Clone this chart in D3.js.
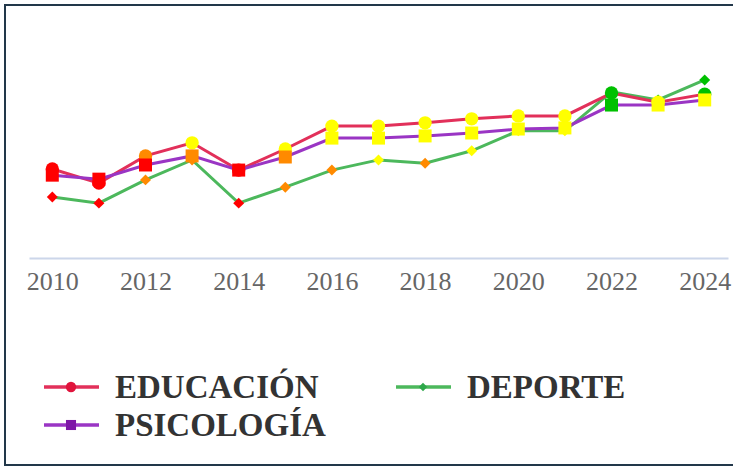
<!DOCTYPE html>
<html lang="es">
<head>
    <meta charset="utf-8">
    <script src="https://d3js.org/d3.v7.min.js"></script>
    <style>
        body { margin: 0; background: #fff; }
    </style>
</head>
<body>
    <div id="chart"></div>
    <script>
        // years on the x axis
        const years = d3.range(2010, 2025);
        const tickYears = [2010, 2012, 2014, 2016, 2018, 2020, 2022, 2024];

        // series values (arbitrary index units)
        const educacion  = [64.5, 60.6, 68.1, 71.7, 64.2, 70.0, 76.3, 76.3, 77.2, 78.3, 79.1, 79.1, 85.4, 82.9, 85.1];
        const psicologia = [62.8, 61.7, 65.6, 68.1, 64.2, 67.8, 73.0, 73.0, 73.6, 74.4, 75.5, 75.8, 82.1, 82.1, 83.5];
        const deporte    = [56.8, 55.1, 61.5, 67.0, 55.1, 59.5, 64.2, 67.0, 66.1, 69.5, 75.0, 75.0, 85.7, 83.5, 89.0];

        // level of each point (0 red, 1 orange, 2 yellow, 3 green) as shown by marker colour
        const nivelEducacion  = [0, 0, 1, 2, 0, 2, 2, 2, 2, 2, 2, 2, 3, 2, 3];
        const nivelPsicologia = [0, 0, 0, 1, 0, 1, 2, 2, 2, 2, 2, 2, 3, 2, 2];
        const nivelDeporte    = [0, 0, 1, 1, 0, 1, 1, 2, 1, 2, 2, 2, 3, 3, 3];

        const width = 733, height = 469;

        const svg = d3.select("#chart")
            .append("svg")
            .attr("width", width)
            .attr("height", height);

        // frame
        svg.append("rect")
            .attr("x", 5).attr("y", 5)
            .attr("width", width + 10).attr("height", height - 9)
            .attr("fill", "#fff")
            .attr("stroke", "#22384a")
            .attr("stroke-width", 2);

        const x = d3.scalePoint()
            .domain(years)
            .range([29, 728])
            .padding(0.5);

        const y = d3.scaleLinear()
            .domain([40, 100])
            .range([258, 40]);

        const levelColor = d3.scaleOrdinal()
            .domain([0, 1, 2, 3])
            .range(["#ff0000", "#ff8a00", "#ffff00", "#00c000"]);

        // square turned 45 degrees is used for the diamond
        const series = [
            { name: "DEPORTE", values: deporte, levels: nivelDeporte, color: "#4cb85c", legendColor: "#2ea84a", symbol: d3.symbolSquare, size: 60, rotate: 45 },
            { name: "EDUCACIÓN", values: educacion, levels: nivelEducacion, color: "#e2305a", legendColor: "#e0143c", symbol: d3.symbolCircle, size: 140, rotate: 0 },
            { name: "PSICOLOGÍA", values: psicologia, levels: nivelPsicologia, color: "#9a35c4", legendColor: "#7e16a8", symbol: d3.symbolSquare, size: 169, rotate: 0 }
        ];

        // x axis
        const xAxis = svg.append("g")
            .attr("transform", "translate(0,258)")
            .call(d3.axisBottom(x).tickValues(tickYears).tickSize(0).tickPadding(14));
        xAxis.select(".domain")
            .attr("stroke", "#ccd6ea")
            .attr("stroke-width", 2);
        xAxis.selectAll("text")
            .attr("fill", "#666")
            .style("font-family", "'Liberation Serif', serif")
            .style("font-size", "26px");

        const line = d3.line()
            .x((d, i) => x(years[i]))
            .y(d => y(d));

        // lines first
        series.forEach(s => {
            svg.append("path")
                .datum(s.values)
                .attr("fill", "none")
                .attr("stroke", s.color)
                .attr("stroke-width", 3)
                .attr("d", line);
        });

        // markers coloured by level
        series.forEach(s => {
            svg.append("g")
                .selectAll("path")
                .data(s.values)
                .join("path")
                .attr("transform", (d, i) => `translate(${x(years[i])},${y(d)}) rotate(${s.rotate})`)
                .attr("d", d3.symbol().type(s.symbol).size(s.size))
                .attr("fill", (d, i) => levelColor(s.levels[i]));
        });

        // legend
        const legendItems = [
            { s: series[1], lx: 44, ly: 387 },
            { s: series[0], lx: 396, ly: 387 },
            { s: series[2], lx: 44, ly: 425 }
        ];
        const legend = svg.append("g");
        legendItems.forEach(item => {
            const g = legend.append("g").attr("transform", `translate(${item.lx},${item.ly})`);
            g.append("line")
                .attr("x1", 0).attr("x2", 55)
                .attr("stroke", item.s.color)
                .attr("stroke-width", 3.5);
            g.append("path")
                .attr("transform", `translate(27,0) rotate(${item.s.rotate})`)
                .attr("d", d3.symbol().type(item.s.symbol).size(item.s.size * 0.6))
                .attr("fill", item.s.legendColor);
            g.append("text")
                .attr("x", 71)
                .attr("y", 11)
                .attr("fill", "#333")
                .style("font-family", "'Liberation Serif', serif")
                .style("font-weight", "bold")
                .style("font-size", "33px")
                .text(item.s.name);
        });
    </script>
</body>
</html>
